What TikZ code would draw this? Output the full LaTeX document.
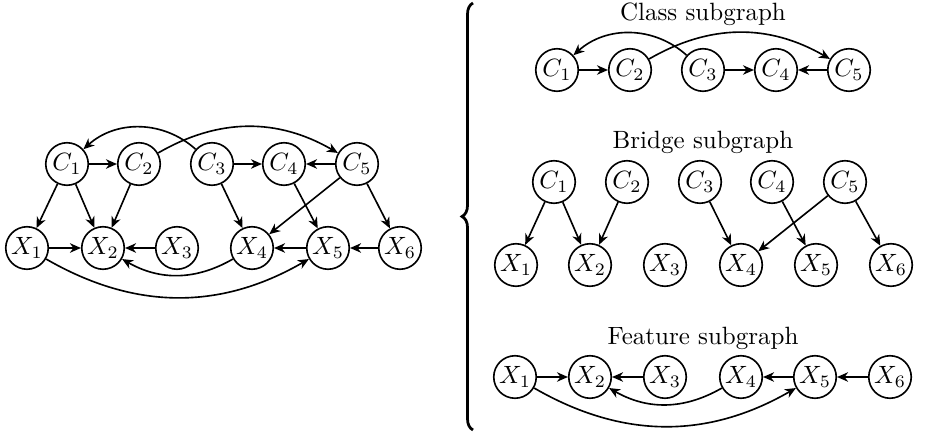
\documentclass[tikz,border=0pt]{standalone}
\usetikzlibrary{arrows.meta,decorations.pathreplacing}
\begin{document}
\begin{tikzpicture}[x=0.4pt,y=-0.4pt,
  var/.style={circle,draw,line width=0.65pt,minimum size=17pt,inner sep=0.5pt},
  arr/.style={-{Stealth[length=4.4pt,width=3.8pt,inset=1.4pt]},line width=0.65pt},
  ttl/.style={font=\fontsize{10}{12}\selectfont,inner sep=0pt}]
\useasboundingbox (0,0) rectangle (925,432);
% ---------- full graph (left) ----------
\foreach \i/\x in {1/67,2/139,3/212,4/284,5/357}
  \node[var] (lC\i) at (\x,164) {$C_\i$};
\foreach \i/\x in {1/27,2/103,3/177,4/252,5/328,6/400}
  \node[var] (lX\i) at (\x,248) {$X_\i$};
\draw[arr] (lC1) -- (lC2);
\draw[arr] (lC3) -- (lC4);
\draw[arr] (lC5) -- (lC4);
\draw[arr] (lC3) to[bend right=42] (lC1);
\draw[arr] (lC2) to[bend left=30] (lC5);
\draw[arr] (lC1) -- (lX1);
\draw[arr] (lC1) -- (lX2);
\draw[arr] (lC2) -- (lX2);
\draw[arr] (lC3) -- (lX4);
\draw[arr] (lC4) -- (lX5);
\draw[arr] (lC5) -- (lX4);
\draw[arr] (lC5) -- (lX6);
\draw[arr] (lX1) -- (lX2);
\draw[arr] (lX3) -- (lX2);
\draw[arr] (lX5) -- (lX4);
\draw[arr] (lX6) -- (lX5);
\draw[arr] (lX4) to[bend left=30] (lX2);
\draw[arr] (lX1) to[bend right=30] (lX5);
% ---------- brace ----------
\draw[decorate,decoration={brace,amplitude=4.4pt},line width=1.1pt] (473,430) -- (473,3);
% ---------- class subgraph ----------
\node[ttl] (tclass) at (703,14) {Class subgraph};
\foreach \i/\x in {1/557,2/630,3/703,4/776,5/849}
  \node[var] (cC\i) at (\x,70) {$C_\i$};
\draw[arr] (cC1) -- (cC2);
\draw[arr] (cC3) -- (cC4);
\draw[arr] (cC5) -- (cC4);
\draw[arr] (cC3) to[bend right=42] (cC1);
\draw[arr] (cC2) to[bend left=30] (cC5);
% ---------- bridge subgraph ----------
\node[ttl] (tbridge) at (703,142) {Bridge subgraph};
\foreach \i/\x in {1/554,2/627,3/700,4/772,5/845}
  \node[var] (bC\i) at (\x,182) {$C_\i$};
\foreach \i/\x in {1/516,2/590,3/665,4/741,5/816,6/891}
  \node[var] (bX\i) at (\x,265) {$X_\i$};
\draw[arr] (bC1) -- (bX1);
\draw[arr] (bC1) -- (bX2);
\draw[arr] (bC2) -- (bX2);
\draw[arr] (bC3) -- (bX4);
\draw[arr] (bC4) -- (bX5);
\draw[arr] (bC5) -- (bX4);
\draw[arr] (bC5) -- (bX6);
% ---------- feature subgraph ----------
\node[ttl] (tfeature) at (703,338) {Feature subgraph};
\foreach \i/\x in {1/515,2/590,3/665,4/741,5/815,6/890}
  \node[var] (fX\i) at (\x,377) {$X_\i$};
\draw[arr] (fX1) -- (fX2);
\draw[arr] (fX3) -- (fX2);
\draw[arr] (fX5) -- (fX4);
\draw[arr] (fX6) -- (fX5);
\draw[arr] (fX4) to[bend left=30] (fX2);
\draw[arr] (fX1) to[bend right=30] (fX5);
\end{tikzpicture}
\end{document}
